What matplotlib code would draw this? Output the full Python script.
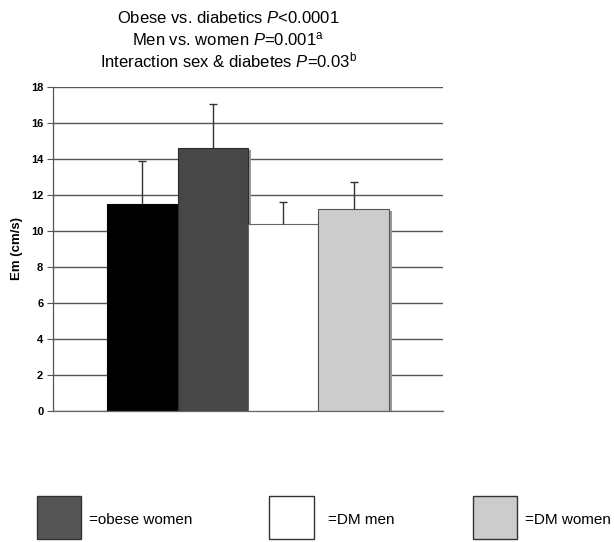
import matplotlib
matplotlib.use('Agg')
import matplotlib.pyplot as plt
import matplotlib.patheffects as pe
from matplotlib.patches import Rectangle

matplotlib.rcParams['font.family'] = ['Liberation Sans', 'DejaVu Sans']
matplotlib.rcParams['mathtext.fontset'] = 'custom'
matplotlib.rcParams['mathtext.rm'] = 'Liberation Sans'
matplotlib.rcParams['mathtext.it'] = 'Liberation Sans:italic'

# data
groups = ['obese men', 'obese women', 'DM men', 'DM women']
em_mean = [11.5, 14.6, 10.4, 11.2]
em_err = [2.4, 2.45, 1.2, 1.5]
bar_colors = ['#000000', '#474747', '#ffffff', '#cccccc']
bar_edges = ['#000000', '#2a2a2a', '#666666', '#555555']
yticks = [0, 2, 4, 6, 8, 10, 12, 14, 16, 18]

title_lines = [r'Obese vs. diabetics $\it{P}$<0.0001',
               r'Men vs. women $\it{P}$=0.001$^{\rm a}$',
               r'Interaction sex & diabetes $\it{P}$=0.03$^{\rm b}$']

legend_labels = ['=obese women', '=DM men', '=DM women']
legend_colors = ['#555555', '#ffffff', '#cccccc']

fig = plt.figure(figsize=(6.15, 5.42), dpi=100)
ax = fig.add_axes([0.0862, 0.2426, 0.6341, 0.5969])

x = list(range(len(groups)))
shadow = [pe.SimplePatchShadow(offset=(2.2, -1.5), shadow_rgbFace='#9a9a9a', alpha=1.0), pe.Normal()]
for xi, m, c, ec in zip(x, em_mean, bar_colors, bar_edges):
    b = ax.bar(xi, m, width=1.0, color=c, edgecolor=ec, linewidth=0.8, zorder=2)
    b[0].set_path_effects(shadow)

eb = ax.errorbar(x, em_mean, yerr=[[0] * len(em_err), em_err], fmt='none',
                 ecolor='#333333', elinewidth=1.0, capsize=3.2, capthick=1.0, zorder=3)
# only the upper cap is shown
eb[1][0].set_visible(False)

ax.set_xlim(-1.266, 4.266)
ax.set_ylim(0, 18)
ax.set_yticks(yticks)
ax.set_yticklabels([str(t) for t in yticks], fontsize=8, fontweight='bold')
ax.set_xticks([])
ax.yaxis.grid(True, color='#555555', linewidth=1.0)
ax.set_axisbelow(True)
ax.tick_params(axis='y', direction='out', length=4, width=0.8, color='#555555', pad=3)
for s in ['top', 'right']:
    ax.spines[s].set_visible(False)
ax.spines['left'].set_color('#555555')
ax.spines['bottom'].set_color('#666666')
ax.spines['left'].set_linewidth(0.9)
ax.spines['bottom'].set_linewidth(0.9)
ax.set_ylabel('Em (cm/s)', fontsize=9.5, fontweight='bold', labelpad=6)

for yy, line in zip([0.9576, 0.9170, 0.8764], title_lines):
    fig.text(0.371, yy, line, ha='center', va='baseline', fontsize=12)

box_x = [0.0597, 0.4379, 0.7686]
text_x = [0.1447, 0.5333, 0.8537]
for bx, tx, lab, col in zip(box_x, text_x, legend_labels, legend_colors):
    fig.patches.append(Rectangle((bx, 0.0055), 0.072, 0.0793, transform=fig.transFigure,
                                 facecolor=col, edgecolor='#333333', linewidth=1.0))
    fig.text(tx, 0.0406, lab, ha='left', va='center', fontsize=11)

fig.savefig('out.png', dpi=100)
